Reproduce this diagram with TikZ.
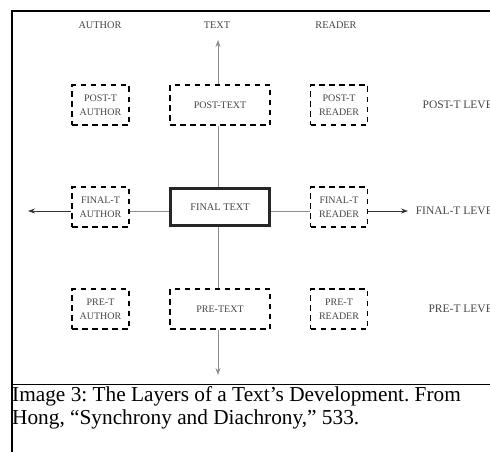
\documentclass[tikz,border=0pt]{standalone}
\usepackage{fontspec}
\setmainfont{Liberation Serif}
\usetikzlibrary{arrows.meta}
\definecolor{inkgray}{RGB}{70,70,70}
\definecolor{linegray}{RGB}{140,140,140}

\begin{document}
\begin{tikzpicture}[x=1pt, y=-1pt,
  stage/.style={rectangle, draw=black, line width=1.8pt, dash pattern=on 5.5pt off 4.5pt,
                minimum width=57pt, minimum height=40pt, inner sep=0pt,
                align=center, text=inkgray, font=\fontsize{10}{14}\selectfont},
  widestage/.style={stage, minimum width=100pt},
  final/.style={rectangle, draw=black!85, line width=2.4pt,
                minimum width=99pt, minimum height=37pt, inner sep=0pt,
                text=inkgray, font=\fontsize{10.3}{14}\selectfont},
  head/.style={inner sep=0pt, text=inkgray, font=\fontsize{10.3}{12}\selectfont},
  level/.style={inner sep=0pt, anchor=east, text=inkgray, font=\fontsize{11.5}{12}\selectfont},
  link/.style={linegray, line width=1pt},
  arr/.style={-{Stealth[length=7pt, width=5pt]}, line width=0.9pt},
]
\clip (0,0) rectangle (490,452);

% frame and caption cell
\draw[line width=2pt] (490,11) -- (12,11) -- (12,452);
\draw[line width=1.8pt] (12,384.5) -- (490,384.5);

% column heads
\node[head] (authorhead) at (100,25)   {AUTHOR};
\node[head] (texthead)   at (217,25)   {TEXT};
\node[head] (readerhead) at (336,25)   {READER};

% post-text level
\node[stage]     (postauthor) at (100.5,105) {POST-T\\AUTHOR};
\node[widestage] (posttext)   at (220,105)   {POST-TEXT};
\node[stage]     (postreader) at (339,105)   {POST-T\\READER};
\node[level]     (postlevel)  at (500,105)   {POST-T LEVEL};

% final-text level
\node[stage]     (finalauthor) at (100.5,207) {FINAL-T\\AUTHOR};
\node[final]     (finaltext)   at (220,207)   {FINAL TEXT};
\node[stage]     (finalreader) at (339,207)   {FINAL-T\\READER};
\node[level]     (finallevel)  at (500,211)   {FINAL-T LEVEL};

% pre-text level
\node[stage]     (preauthor) at (100.5,309) {PRE-T\\AUTHOR};
\node[widestage] (pretext)   at (220,309)   {PRE-TEXT};
\node[stage]     (prereader) at (339,309)   {PRE-T\\READER};
\node[level]     (prelevel)  at (500,309)   {PRE-T LEVEL};

% arrow ends
\coordinate (uptip)    at (218,40);
\coordinate (downtip)  at (218,375);
\coordinate (lefttip)  at (28,211);
\coordinate (righttip) at (408,211);

% vertical axis
\draw[arr, linegray] ([xshift=-2pt]posttext.north) -- (uptip);
\draw[link] ([xshift=-2pt]posttext.south) -- ([xshift=-2pt]finaltext.north);
\draw[link] ([xshift=-2pt]finaltext.south) -- ([xshift=-2pt]pretext.north);
\draw[arr, linegray] ([xshift=-2pt]pretext.south) -- (downtip);

% horizontal axis
\draw[arr, black!80] ([yshift=-4pt]finalauthor.west) -- (lefttip);
\draw[link] ([yshift=-4pt]finalauthor.east) -- ([yshift=-4pt]finaltext.west);
\draw[link] ([yshift=-4pt]finaltext.east) -- ([yshift=-4pt]finalreader.west);
\draw[arr, black!80] ([yshift=-4pt]finalreader.east) -- (righttip);

% caption (base = baseline of its last line)
\node[anchor=base west, inner sep=0pt, align=left,
      font=\fontsize{21.3}{22.5}\selectfont\frenchspacing] (caption) at (12,424)
  {Image 3: The Layers of a Text’s Development. From\\
   Hong, “Synchrony and Diachrony,” 533.};
\end{tikzpicture}
\end{document}
